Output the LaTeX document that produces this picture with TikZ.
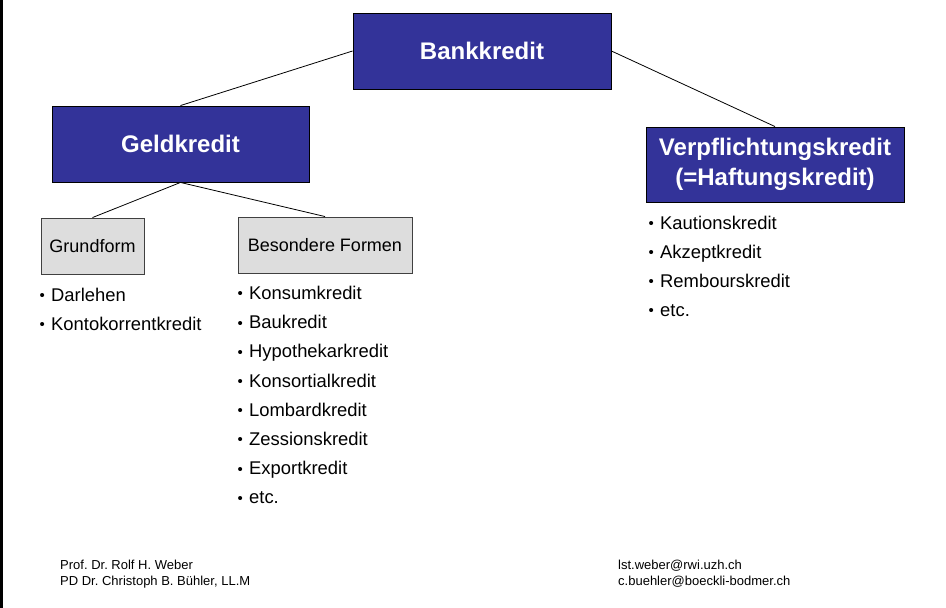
\documentclass[tikz,border=0pt]{standalone}
\usepackage{fontspec}
\setmainfont{Liberation Sans}
\frenchspacing
\definecolor{boxblue}{HTML}{333399}
\definecolor{boxgray}{HTML}{DDDDDD}
\newcommand{\bul}{\makebox[11.5pt][l]{\fontsize{15}{15}\selectfont\raisebox{0.6pt}{•}}}
\begin{document}
\begin{tikzpicture}[x=1pt,y=-1pt,
  bluebox/.style={draw=black,line width=0.9pt,fill=boxblue,text=white,inner sep=0pt,
     font=\fontsize{24}{30}\selectfont\bfseries,align=center},
  graybox/.style={draw=black!75,line width=0.9pt,fill=boxgray,inner sep=0pt,
     font=\fontsize{18}{22}\selectfont},
  item/.style={anchor=base west,inner sep=0pt,font=\fontsize{18.4}{22}\selectfont},
  foot/.style={anchor=base west,inner sep=0pt,font=\fontsize{13}{15}\selectfont},
  link/.style={draw=black,line width=0.8pt}]
\useasboundingbox (0,0) rectangle (946,608);
\fill[white] (0,0) rectangle (946,608);
\fill[black] (0,0) rectangle (2.5,608);
% boxes
\node[bluebox,minimum width=258,minimum height=76] (bank) at (482,51) {Bankkredit};
\node[bluebox,minimum width=257,minimum height=76] (geld) at (180.5,144) {Geldkredit};
\node[bluebox,minimum width=258,minimum height=75] (verpf) at (775,164.5) {Verpflichtungskredit\\(=Haftungskredit)};
\node[graybox,minimum width=103,minimum height=56] (grund) at (92.5,246) {Grundform};
\node[graybox,minimum width=174,minimum height=56] (bes) at (325,245) {Besondere Formen};
% connectors
\draw[link] (bank.west) -- (geld.north);
\draw[link] (bank.east) -- (verpf.north);
\draw[link] (geld.south) -- (grund.north);
\draw[link] (geld.south) -- (bes.north);
% lists
\node[item] (g1) at (39.5,301.5) {\bul Darlehen};
\node[item] (g2) at (39.5,330.5) {\bul Kontokorrentkredit};
\node[item] (b1) at (237.5,299.5) {\bul Konsumkredit};
\node[item] (b2) at (237.5,328.7) {\bul Baukredit};
\node[item] (b3) at (237.5,357.9) {\bul Hypothekarkredit};
\node[item] (b4) at (237.5,387.1) {\bul Konsortialkredit};
\node[item] (b5) at (237.5,416.3) {\bul Lombardkredit};
\node[item] (b6) at (237.5,445.5) {\bul Zessionskredit};
\node[item] (b7) at (237.5,474.7) {\bul Exportkredit};
\node[item] (b8) at (237.5,503.9) {\bul etc.};
\node[item] (v1) at (648.5,229.5) {\bul Kautionskredit};
\node[item] (v2) at (648.5,258.5) {\bul Akzeptkredit};
\node[item] (v3) at (648.5,287.5) {\bul Rembourskredit};
\node[item] (v4) at (648.5,316.5) {\bul etc.};
% footer
\node[foot] (f1) at (60,569) {Prof. Dr. Rolf H. Weber};
\node[foot] (f2) at (60,585) {PD Dr. Christoph B. Bühler, LL.M};
\node[foot] (f3) at (618,569) {lst.weber@rwi.uzh.ch};
\node[foot] (f4) at (618,585) {c.buehler@boeckli-bodmer.ch};
\end{tikzpicture}
\end{document}
